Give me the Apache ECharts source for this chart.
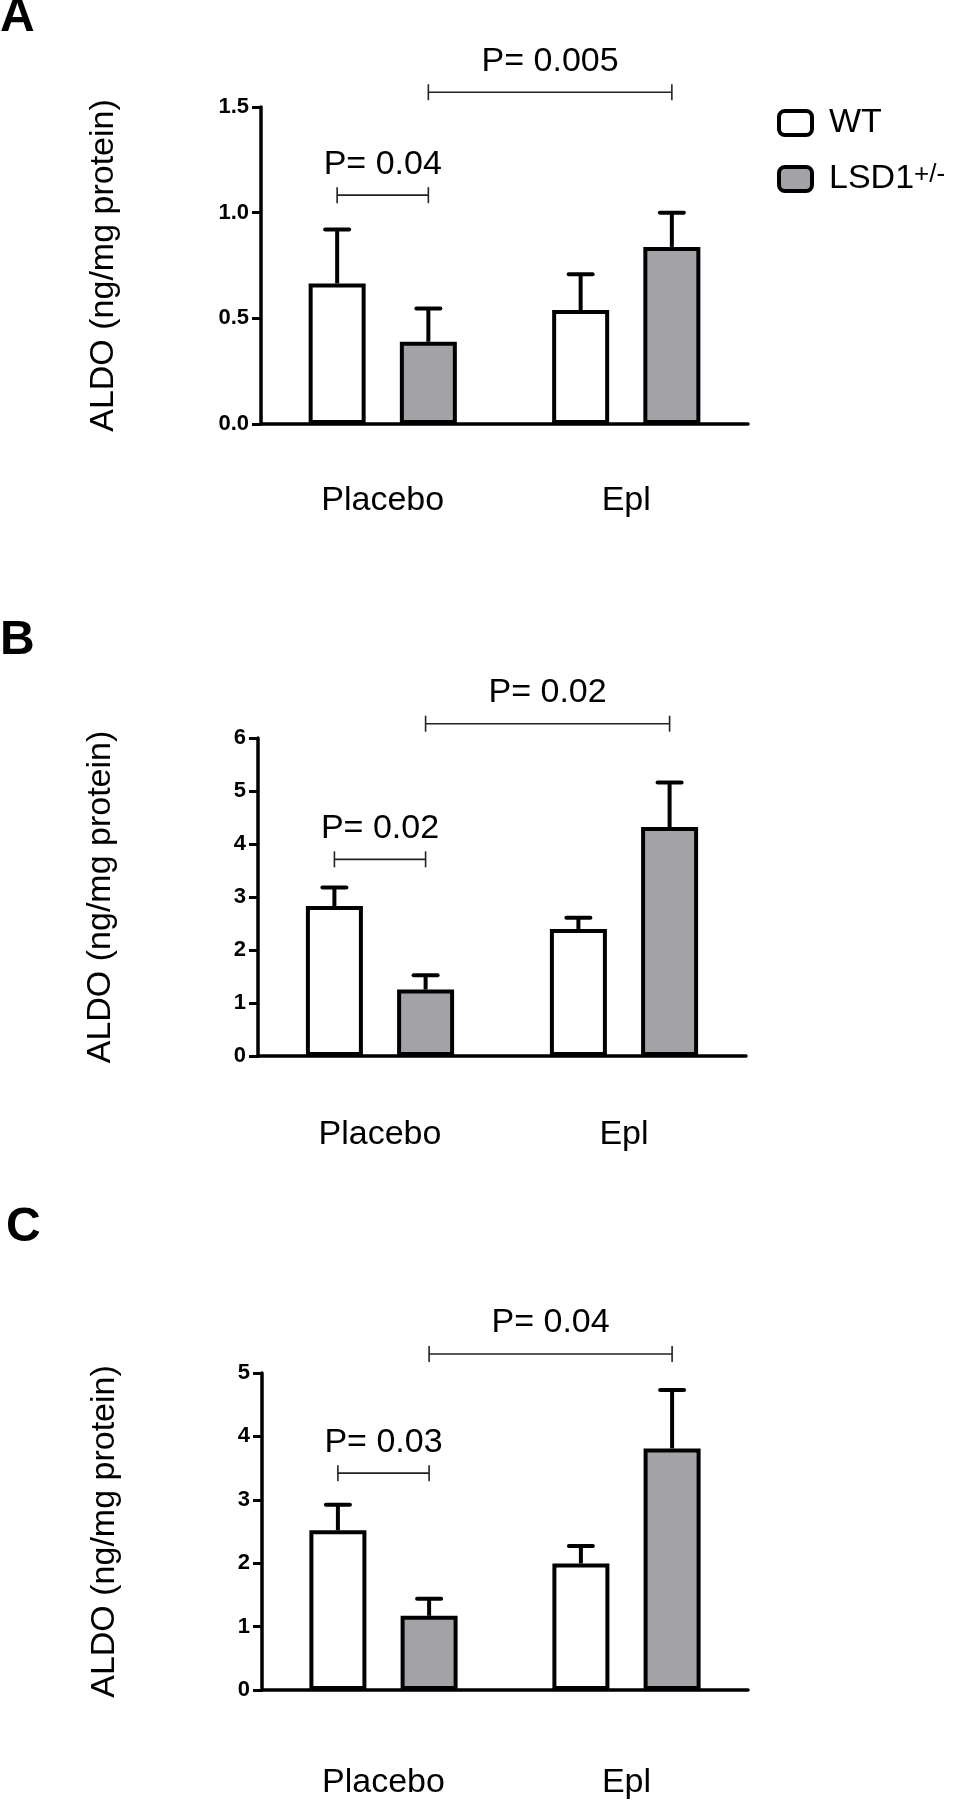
<!DOCTYPE html>
<html>
<head>
<meta charset="utf-8">
<script src="https://cdn.jsdelivr.net/npm/echarts@6/dist/echarts.min.js"></script>
<style>
  html, body { margin: 0; padding: 0; background: #fff; }
  #main { width: 956px; height: 1800px; }
</style>
</head>
<body>
<div id="main"></div>
<script>
const FONT = '"Liberation Sans", Arial, sans-serif';
const GRAY = '#a3a2a7';

const categories = ['Placebo', 'Epl'];
const groups = ['WT', 'LSD1'];

// panel A
const wtA = [0.665, 0.539];
const wtErrA = [0.255, 0.170];
const lsdA = [0.389, 0.838];
const lsdErrA = [0.158, 0.162];
const yTicksA = [0, 0.5, 1.0, 1.5];
// [fromCat, fromGroup, toCat, toGroup, y, label]
const bracketsA = [
  [0, 0, 0, 1, 1.083, 'P= 0.04'],
  [0, 1, 1, 1, 1.57, 'P= 0.005']
];

// panel B
const wtB = [2.83, 2.395];
const wtErrB = [0.35, 0.215];
const lsdB = [1.255, 4.32];
const lsdErrB = [0.27, 0.84];
const yTicksB = [0, 1, 2, 3, 4, 5, 6];
const bracketsB = [
  [0, 0, 0, 1, 3.71, 'P= 0.02'],
  [0, 1, 1, 1, 6.27, 'P= 0.02']
];

// panel C
const wtC = [2.52, 1.995];
const wtErrC = [0.40, 0.275];
const lsdC = [1.17, 3.81];
const lsdErrC = [0.27, 0.92];
const yTicksC = [0, 1, 2, 3, 4, 5];
const bracketsC = [
  [0, 0, 0, 1, 3.42, 'P= 0.03'],
  [0, 1, 1, 1, 5.30, 'P= 0.04']
];

const BAR_W = 57;
const BAR_GAP = 0.6;
const BAR_OFFSET = BAR_W * (1 + BAR_GAP) / 2;

const panels = [
  { wt: wtA, wtErr: wtErrA, lsd: lsdA, lsdErr: lsdErrA, ticks: yTicksA, brackets: bracketsA, digits: 1,
    grid: { left: 261, top: 107, width: 487, height: 317 }, labelMargin: 60 },
  { wt: wtB, wtErr: wtErrB, lsd: lsdB, lsdErr: lsdErrB, ticks: yTicksB, brackets: bracketsB, digits: 0,
    grid: { left: 258, top: 738, width: 488, height: 318 }, labelMargin: 62 },
  { wt: wtC, wtErr: wtErrC, lsd: lsdC, lsdErr: lsdErrC, ticks: yTicksC, brackets: bracketsC, digits: 0,
    grid: { left: 262, top: 1373, width: 486, height: 318 }, labelMargin: 76 }
];

function errorBarItem(params, api) {
  const cat = api.value(0), grp = api.value(1);
  const mean = api.value(2), err = api.value(3);
  const base = api.coord([cat, mean]);
  const top = api.coord([cat, mean + err]);
  const x = base[0] + (grp === 0 ? -1 : 1) * BAR_OFFSET;
  return {
    type: 'group',
    children: [
      { type: 'line', shape: { x1: x, y1: base[1], x2: x, y2: top[1] },
        style: { stroke: '#000', lineWidth: 4 } },
      { type: 'line', shape: { x1: x - 12, y1: top[1], x2: x + 12, y2: top[1] },
        style: { stroke: '#000', lineWidth: 4, lineCap: 'round' } }
    ]
  };
}

function bracketItem(list) {
  return function (params, api) {
    const b = list[params.dataIndex];
    const p1 = api.coord([b[0], b[4]]);
    const p2 = api.coord([b[2], b[4]]);
    const x1 = p1[0] + (b[1] ? 1 : -1) * BAR_OFFSET;
    const x2 = p2[0] + (b[3] ? 1 : -1) * BAR_OFFSET;
    const y = p1[1];
    const st = { stroke: '#222', lineWidth: 1.6 };
    return {
      type: 'group',
      children: [
        { type: 'line', shape: { x1: x1, y1: y, x2: x2, y2: y }, style: st },
        { type: 'line', shape: { x1: x1, y1: y - 8, x2: x1, y2: y + 8 }, style: st },
        { type: 'line', shape: { x1: x2, y1: y - 8, x2: x2, y2: y + 8 }, style: st },
        { type: 'text', x: (x1 + x2) / 2, y: y - 14,
          style: { text: b[5], font: '34px ' + FONT, fill: '#000', align: 'center', verticalAlign: 'bottom' } }
      ]
    };
  };
}

const grids = [], xAxes = [], yAxes = [], series = [];
panels.forEach((p, i) => {
  grids.push(p.grid);
  xAxes.push({
    type: 'category', gridIndex: i, data: categories,
    axisLine: { lineStyle: { color: '#000', width: 3.5 } },
    axisTick: { alignWithLabel: true, length: 10, lineStyle: { color: '#000', width: 2.5 } },
    axisLabel: { color: '#000', fontSize: 34, fontFamily: FONT, margin: p.labelMargin }
  });
  yAxes.push({
    type: 'value', gridIndex: i,
    min: p.ticks[0], max: p.ticks[p.ticks.length - 1], interval: p.ticks[1] - p.ticks[0],
    name: 'ALDO (ng/mg protein)', nameLocation: 'middle', nameGap: 140,
    nameTextStyle: { color: '#000', fontSize: 34, fontFamily: FONT },
    splitLine: { show: false },
    axisLine: { show: true, lineStyle: { color: '#000', width: 3.5 } },
    axisTick: { show: true, length: 9, lineStyle: { color: '#000', width: 3 } },
    axisLabel: { color: '#000', fontSize: 22, fontWeight: 'bold', fontFamily: FONT, margin: 12,
      formatter: v => v.toFixed(p.digits) }
  });
  const barStyle = (fill) => ({ color: fill, borderColor: '#000', borderWidth: 4 });
  series.push({
    name: groups[0], type: 'bar', xAxisIndex: i, yAxisIndex: i, data: p.wt,
    barWidth: BAR_W, barGap: (BAR_GAP * 100) + '%', itemStyle: barStyle('#fff')
  });
  series.push({
    name: groups[1], type: 'bar', xAxisIndex: i, yAxisIndex: i, data: p.lsd,
    barWidth: BAR_W, barGap: (BAR_GAP * 100) + '%', itemStyle: barStyle(GRAY)
  });
  const errData = [];
  categories.forEach((c, k) => {
    errData.push([k, 0, p.wt[k], p.wtErr[k]]);
    errData.push([k, 1, p.lsd[k], p.lsdErr[k]]);
  });
  series.push({
    type: 'custom', xAxisIndex: i, yAxisIndex: i, data: errData,
    encode: { x: 0, y: 2 }, renderItem: errorBarItem, z: 3
  });
  series.push({
    type: 'custom', xAxisIndex: i, yAxisIndex: i, clip: false,
    data: p.brackets.map(b => b.slice(0, 5)),
    encode: { x: 0, y: 4 }, renderItem: bracketItem(p.brackets), z: 3
  });
});

const letterStyle = { fontSize: 48, fontWeight: 'bold', color: '#000', fontFamily: FONT };

const chart = echarts.init(document.getElementById('main'));
chart.setOption({
  animation: false,
  backgroundColor: '#fff',
  title: [
    { text: 'A', left: 0, top: -6, padding: 0, textStyle: letterStyle },
    { text: 'B', left: 0, top: 617, padding: 0, textStyle: letterStyle },
    { text: 'C', left: 6, top: 1204, padding: 0, textStyle: letterStyle }
  ],
  legend: {
    data: groups, orient: 'vertical', left: 772, top: 101,
    itemWidth: 33, itemHeight: 24, itemGap: 22,
    itemStyle: { borderColor: '#000', borderWidth: 4 },
    formatter: n => n === 'LSD1' ? 'LSD1{sup|+/-}' : n,
    textStyle: {
      fontSize: 34, color: '#000', fontFamily: FONT, padding: [0, 0, 0, 12],
      rich: { sup: { fontSize: 26, fontFamily: FONT, color: '#000', verticalAlign: 'top', lineHeight: 24 } }
    }
  },
  grid: grids,
  xAxis: xAxes,
  yAxis: yAxes,
  series: series
});
</script>
</body>
</html>
